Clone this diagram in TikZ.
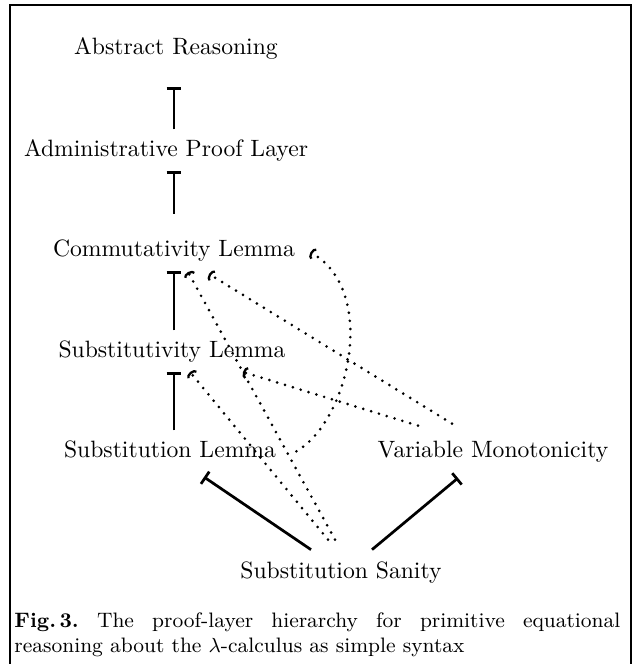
\documentclass[tikz,border=0pt]{standalone}
\usetikzlibrary{calc,arrows.meta}

\begin{document}
\begin{tikzpicture}[
  x = 0.44pt,
  y = -0.44pt,
  layer/.style={anchor=base,inner sep=0pt,text height=7pt,text depth=2pt,
    font=\fontsize{10.4}{12}\selectfont},
  proof-arrow/.style={line width=1.1pt,shorten <=4.5pt,shorten >=4.5pt,
    -{Bar[width=6.5pt,line width=1.1pt]}},
  slant-arrow/.style={line width=1.2pt,-{Bar[width=6.5pt,line width=1.2pt]}},
  uses-arrow/.style={line width=1.3pt,line cap=round,dash pattern=on 0pt off 3.6pt,
    -{Arc Barb[width=5.5pt,length=1.7pt,line width=1pt]}},
  caption/.style={anchor=base west,inner sep=0pt,font=\fontsize{9.2}{11}\selectfont},
  ]
  \useasboundingbox (0,0) rectangle (638,664);
  \draw [line width=0.7pt] (10,670) -- (10,5) -- (631,5) -- (631,670);

  \node [layer] (abs) at (176,54)  {Abstract Reasoning};
  \node [layer] (adm) at (166,156) {Administrative Proof Layer};
  \node [layer] (com) at (174,256) {Commutativity Lemma};
  \node [layer] (sbv) at (172,357) {Substitutivity Lemma};
  \node [layer] (sbl) at (170,457) {Substitution Lemma};
  \node [layer] (vmo) at (493,457) {Variable Monotonicity};
  \node [layer] (san) at (341,578) {Substitution Sanity};

  \draw [proof-arrow,shorten >=12.5pt] (adm.north -| com.base) -- (abs.south -| com.base);
  \draw [proof-arrow,shorten <=11.5pt] (com.north) -- (adm.south -| com.base);
  \draw [proof-arrow] (sbv.north -| com.base) -- (com.south);
  \draw [proof-arrow] (sbl.north -| com.base) -- (sbv.south -| com.base);
  \draw [slant-arrow] ([shift={(-30,-12)}]san.north) -- ([shift={(34,15)}]sbl.south);
  \draw [slant-arrow] ([shift={(31,-12)}]san.north)  -- ([shift={(-35,16)}]vmo.south);

  % dotted dependencies
  \draw [uses-arrow] ([shift={(-13,-22)}]san.north) -- ([shift={(18,10)}]sbv.south);
  \draw [uses-arrow] ([shift={(-6,-22)}]san.north)  -- ([shift={(14,11)}]com.south);
  \draw [uses-arrow] ([shift={(-41,-17)}]vmo.north) -- ([shift={(35,13)}]com.south);
  \draw [uses-arrow] ([shift={(-75,-15)}]vmo.north) -- ([shift={(71,10)}]sbv.south);
  \draw [uses-arrow] ([shift={(20,0)}]sbl.east) .. controls (350,420) and (378,290)
    .. ([shift={(15,2)}]com.east);

  \node [caption] (cap1) at (14,627)
    {\frenchspacing\makebox[266.6pt][s]{\textbf{Fig.\,3.} The proof-layer hierarchy for primitive equational}};
  \node [caption] (cap2) at (14,652)
    {reasoning about the $\lambda$-calculus as simple syntax};
\end{tikzpicture}
\end{document}
